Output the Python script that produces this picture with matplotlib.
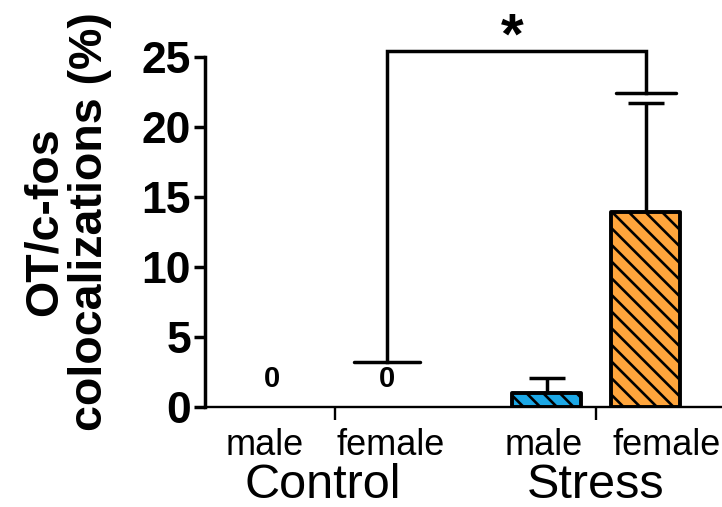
import matplotlib
matplotlib.use("Agg")
import matplotlib.pyplot as plt

plt.rcParams['font.family'] = ['Liberation Sans', 'DejaVu Sans']
plt.rcParams['hatch.linewidth'] = 1.9

# Data
conditions = ["male", "female", "male", "female"]
groups = ["Control", "Stress"]
means = [0.0, 0.0, 1.0, 13.9]
sem = [0.0, 0.0, 1.05, 7.8]
bar_colors = ["white", "white", "#1CA8E6", "#FFA53C"]
bracket_low = 3.2      # left end of the significance bracket
bracket_top = 25.4
bracket_right = 22.4
sig_label = "*"

# Layout (x in category units)
xpos = [0.0, 1.0, 2.39, 3.25]
label_x = [-0.06, 1.03, 2.36, 3.43]
group_x = [0.44, 2.81]
bar_w = 0.60

fig = plt.figure(figsize=(7.22, 5.07), dpi=100)
ax = fig.add_axes([205 / 722, 100 / 507, 517 / 722, 350 / 507])
ax.set_xlim(-0.583, 3.913)
ax.set_ylim(0, 25)

lw = 2.5
for i in range(4):
    if means[i] > 0:
        ax.bar(xpos[i], means[i], width=bar_w, color=bar_colors[i],
               edgecolor="black", linewidth=lw + 0.3, hatch="\\\\",
               joinstyle="round", zorder=3)
        ax.errorbar(xpos[i], means[i], yerr=[[0], [sem[i]]], fmt="none",
                    ecolor="black", elinewidth=lw, capsize=13,
                    capthick=lw, zorder=2)
    else:
        ax.text(xpos[i], means[i] + 1.0, f"{means[i]:g}", ha="center",
                va="bottom", fontsize=21, fontweight="bold")

# Significance bracket
x1, x2 = xpos[1], xpos[3]
ax.plot([x1, x1, x2, x2], [bracket_low, bracket_top, bracket_top, bracket_right],
        color="black", lw=lw, clip_on=False, solid_joinstyle="miter", zorder=4)
foot = 0.29
ax.plot([x1 - foot, x1 + foot], [bracket_low, bracket_low], color="black",
        lw=lw, clip_on=False, solid_capstyle="round")
ax.plot([x2 - foot * 0.9, x2 + foot * 0.9], [bracket_right, bracket_right],
        color="black", lw=lw, clip_on=False, solid_capstyle="round", zorder=4)
ax.text((x1 + x2) / 2 - 0.04, 26.3, sig_label, ha="center",
        va="center", fontsize=42, fontweight="bold", clip_on=False)

# Axes styling
for s in ["top", "right"]:
    ax.spines[s].set_visible(False)
ax.spines["left"].set_linewidth(lw)
ax.spines["bottom"].set_linewidth(1.7)
ax.set_yticks([0, 5, 10, 15, 20, 25])
ax.tick_params(axis="y", length=8, width=lw, labelsize=32, pad=2)
for t in ax.get_yticklabels():
    t.set_fontweight("bold")
ax.set_xticks([(xpos[0] + xpos[1]) / 2 + 0.05, (xpos[2] + xpos[3]) / 2])
ax.set_xticklabels([])
ax.tick_params(axis="x", length=9, width=1.7)

for x, lab in zip(label_x, conditions):
    ax.text(x, -0.11, lab, transform=ax.get_xaxis_transform(), ha="center",
            va="center", fontsize=26, clip_on=False)
for x, lab in zip(group_x, groups):
    ax.text(x, -0.225, lab, transform=ax.get_xaxis_transform(), ha="center",
            va="center", fontsize=35, clip_on=False)

ax.set_ylabel("OT/c-fos\ncolocalizations (%)", fontsize=33.5, fontweight="bold",
              linespacing=1.05)
ax.yaxis.set_label_coords(-0.179, 0.53)

fig.savefig("out.png", dpi=100)
